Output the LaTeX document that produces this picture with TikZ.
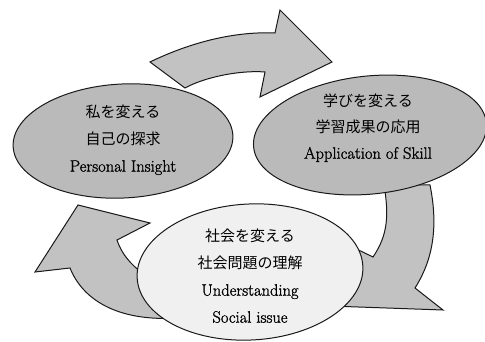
\documentclass[tikz,border=0pt]{standalone}
\usepackage{fontspec}
\newfontfamily\jp{Noto Sans CJK JP}
\newfontfamily\enfont{Latin Modern Roman}[FakeBold=1.2]
\usetikzlibrary{shapes.geometric}
\tikzset{
  bubble/.style={ellipse, draw=black!90, line width=1pt, inner sep=0pt, fill=black!27},
  pale/.style={fill=black!6},
  words/.style={align=center, font=\fontsize{15}{27}\selectfont, inner sep=0pt},
  turn/.style={draw=black!90, line width=1pt, fill=black!24, line join=miter}
}
\newcommand{\en}[1]{{\enfont\fontsize{16.5}{27}\selectfont #1}}

\begin{document}
\begin{tikzpicture}[x=1pt,y=-1pt]
  \useasboundingbox (0,0) rectangle (485,342);
  % the three turning arrows, behind the ellipses
  \draw[turn] (150,62) .. controls (185,45) and (230,31) .. (275,33) -- (280,10) -- (332,62)
    -- (260,97) -- (265,72) .. controls (240,70) and (205,77) .. (185,88) -- cycle;
  \draw[turn] (430,185) .. controls (437,220) and (436,255) .. (415,288) -- (443,310)
    -- (330,306) -- (340,241) -- (373,257) .. controls (388,235) and (389,215) .. (384,185) -- cycle;
  \draw[turn] (78,205) -- (150,223) -- (117,240) .. controls (122,255) and (133,270) .. (165,288)
    -- (178,318) .. controls (115,322) and (82,298) .. (70,268) -- (35,272) -- cycle;

  \node[bubble, minimum width=220pt, minimum height=114pt, rotate=3] (self) at (123,141) {};
  \node[bubble, minimum width=234pt, minimum height=118pt, rotate=6] (skill) at (370,135) {};
  \node[bubble, pale, minimum width=226pt, minimum height=136pt, rotate=3] (society) at (250,272) {};

  \node[words] (selftext) at (123,140) {{\jp 私を変える}\\{\jp 自己の探求}\\\en{Personal Insight}};
  \node[words, font=\fontsize{15}{26}\selectfont] (skilltext) at (368,128)
    {{\jp 学びを変える}\\{\jp 学習成果の応用}\\\en{Application of Skill}};
  \node[words] (societytext) at (250,276)
    {{\jp 社会を変える}\\{\jp 社会問題の理解}\\\en{Understanding}\\\en{Social issue}};
\end{tikzpicture}
\end{document}
